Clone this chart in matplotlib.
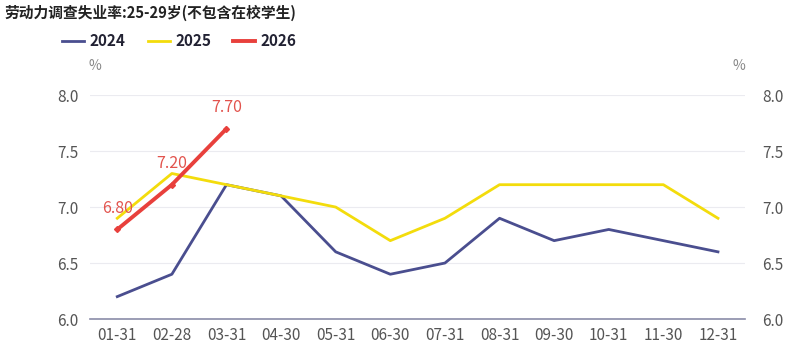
import matplotlib
matplotlib.use('Agg')
import matplotlib.pyplot as plt

plt.rcParams['font.family'] = ['Noto Sans CJK SC', 'DejaVu Sans']

months = ['01-31', '02-28', '03-31', '04-30', '05-31', '06-30',
          '07-31', '08-31', '09-30', '10-31', '11-30', '12-31']
y2024 = [6.2, 6.4, 7.2, 7.1, 6.6, 6.4, 6.5, 6.9, 6.7, 6.8, 6.7, 6.6]
y2025 = [6.9, 7.3, 7.2, 7.1, 7.0, 6.7, 6.9, 7.2, 7.2, 7.2, 7.2, 6.9]
y2026 = [6.8, 7.2, 7.7]

c24 = '#4a4e8f'
c25 = '#f3dc0c'
c26 = '#e8403c'
tick_c = '#555555'

fig = plt.figure(figsize=(7.92, 3.59), dpi=100)
ax = fig.add_axes([0.1136, 0.1114, 0.8274, 0.6236])

x = list(range(len(months)))
l1, = ax.plot(x, y2024, color=c24, lw=2, label='2024')
l2, = ax.plot(x, y2025, color=c25, lw=2, label='2025')
l3, = ax.plot(x[:len(y2026)], y2026, color=c26, lw=2.8, label='2026')
ax.plot(x[:len(y2026)], y2026, ls='none', color=c26, marker='D', markersize=3)
for i, v in enumerate(y2026):
    ax.annotate(f'{v:.2f}', (i, v), xytext=(0, 9), textcoords='offset points',
                ha='center', va='bottom', color='#e2534d', fontsize=11.5)

ax.set_xlim(-0.5, len(months) - 0.5)
ax.set_ylim(6.0, 8.0)
ax.set_yticks([6.0, 6.5, 7.0, 7.5, 8.0])
ax.set_yticklabels([f'{t:.1f}' for t in [6.0, 6.5, 7.0, 7.5, 8.0]])
ax.set_xticks(x)
ax.set_xticklabels(months)
ax.grid(axis='y', color='#ebebf0', lw=0.8)
ax.set_axisbelow(True)
for s in ['top', 'left', 'right']:
    ax.spines[s].set_visible(False)
ax.spines['bottom'].set_color('#8a8ca8')
ax.spines['bottom'].set_linewidth(1.2)
ax.tick_params(axis='both', length=0, labelsize=11, colors=tick_c, pad=8)
ax.tick_params(axis='x', pad=6)

ax2 = ax.twinx()
ax2.set_ylim(ax.get_ylim())
ax2.set_yticks([6.0, 6.5, 7.0, 7.5, 8.0])
ax2.set_yticklabels([f'{t:.1f}' for t in [6.0, 6.5, 7.0, 7.5, 8.0]])
for s in ['top', 'left', 'right', 'bottom']:
    ax2.spines[s].set_visible(False)
ax2.tick_params(axis='y', length=0, labelsize=11, colors=tick_c, pad=12)

fig.text(0.006, 0.965, '劳动力调查失业率:25-29岁(不包含在校学生)', fontsize=10.6,
         fontweight='bold', color='#222222', va='center', ha='left')
fig.text(0.12, 0.815, '%', fontsize=10, color='#888888', ha='center', va='center')
fig.text(0.933, 0.815, '%', fontsize=10, color='#888888', ha='center', va='center')

fig.legend(handles=[l1, l2, l3], loc='center left', bbox_to_anchor=(0.061, 0.885),
           ncol=3, frameon=False, handlelength=1.45, columnspacing=1.45,
           handletextpad=0.35, prop={'weight': 'bold', 'size': 11})
for t in fig.legends[0].get_texts():
    t.set_color('#222233')

fig.savefig('out.png', dpi=100)
